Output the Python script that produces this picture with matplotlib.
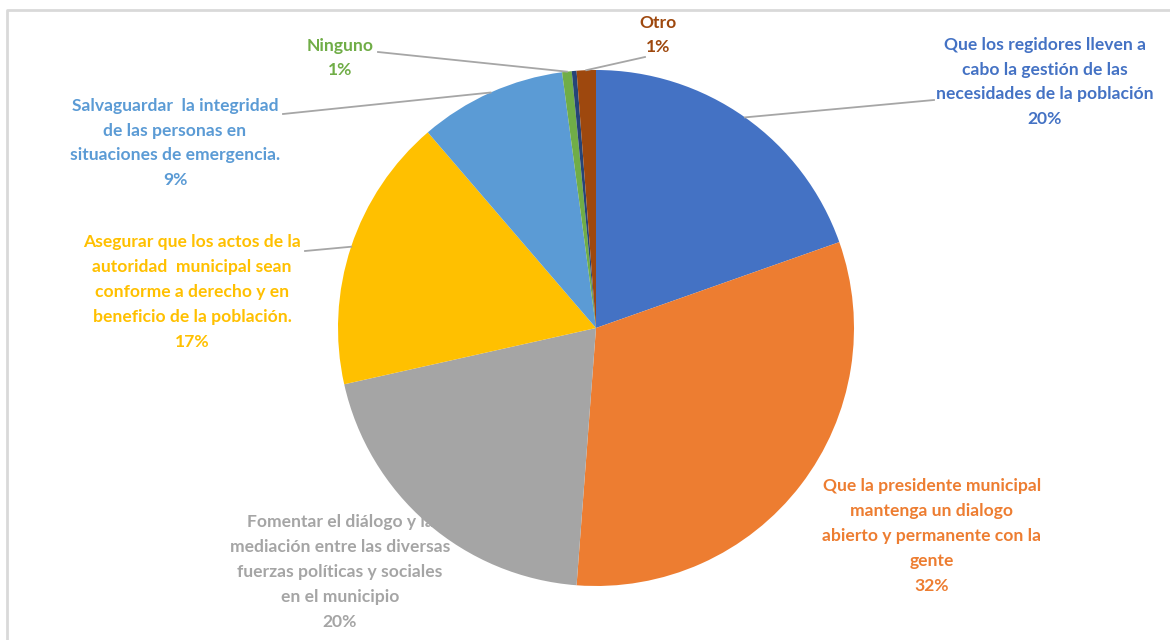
import matplotlib.pyplot as plt
import numpy as np

# data (percent of answers)
categories = [
    'Que los regidores lleven a\ncabo la gestión de las\nnecesidades de la población',
    'Que la presidente municipal\nmantenga un dialogo\nabierto y permanente con la\ngente',
    'Fomentar el diálogo y la\nmediación entre las diversas\nfuerzas políticas y sociales\nen el municipio',
    'Asegurar que los actos de la\nautoridad  municipal sean\nconforme a derecho y en\nbeneficio de la población.',
    'Salvaguardar  la integridad\nde las personas en\nsituaciones de emergencia.',
    'Ninguno',
    '',
    'Otro',
]
values = [19.6, 31.6, 20.3, 17.2, 9.2, 0.6, 0.3, 1.2]
colors = ['#4472C4', '#ED7D31', '#A5A5A5', '#FFC000', '#5B9BD5', '#70AD47', '#264478', '#9E480E']

# label placement (pixel coords, y up) and where the leader line starts; None = no line
label_pos = [(1045, 558), (932, 104), (340, 68), (192, 348), (175, 497), (340, 582), None, (658, 605)]
line_end = [(934, 540), None, None, (305, 389), (283, 526), (378, 588), None, (645, 583)]

W, H = 1170, 640
fig = plt.figure(figsize=(W / 100, H / 100), dpi=100)
ax = fig.add_axes([0, 0, 1, 1])

# chart frame (only top/left visible in the crop)
ax.plot([7, 7, W], [0, H - 10, H - 10], color='#D9D9D9', lw=2, solid_capstyle='butt')

cx, cy, r = 596, 312, 258
wedges, _ = ax.pie(values, colors=colors, startangle=90, counterclock=False,
                   center=(cx, cy), radius=r, frame=True,
                   wedgeprops=dict(linewidth=0))
ax.set_xlim(0, W)
ax.set_ylim(0, H)
ax.axis('off')

total = sum(values)
for w, cat, val, col, pos, le in zip(wedges, categories, values, colors, label_pos, line_end):
    if pos is None:
        continue
    mid = np.deg2rad((w.theta1 + w.theta2) / 2)
    if le is not None:
        px, py = cx + r * np.cos(mid), cy + r * np.sin(mid)
        ax.plot([px, le[0]], [py, le[1]], color='#A6A6A6', lw=1.3, zorder=3)
    pct = '%d%%' % round(val / total * 100)
    txt = cat + '\n' + pct if cat else pct
    ax.text(pos[0], pos[1], txt, ha='center', va='center', color=col,
            fontsize=12.6, fontweight='bold', family='Lato', linespacing=1.68, zorder=4)

fig.savefig('out.png', dpi=100)
